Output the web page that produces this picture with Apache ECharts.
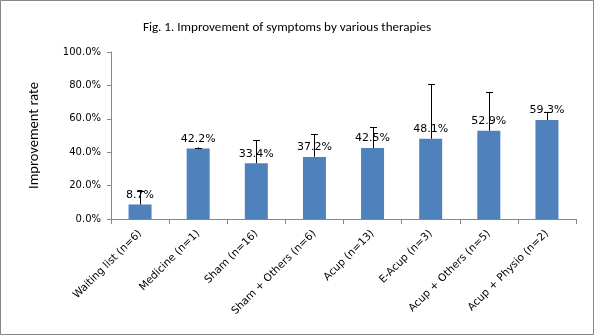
<!DOCTYPE html>
<html>
<head>
<meta charset="utf-8">
<script src="https://cdn.jsdelivr.net/npm/echarts@6/dist/echarts.min.js"></script>
<style>
  html, body { margin: 0; padding: 0; background: #fff; }
  #chart { width: 595px; height: 336px; }
</style>
</head>
<body>
<div id="chart"></div>
<script>
// Therapy groups and mean improvement rate (%)
const categories = [
  'Waiting list (n=6)', 'Medicine (n=1)', 'Sham (n=16)', 'Sham + Others (n=6)',
  'Acup (n=13)', 'E-Acup (n=3)', 'Acup + Others (n=5)', 'Acup + Physio (n=2)'
];
const improvement = [8.7, 42.2, 33.4, 37.2, 42.5, 48.1, 52.9, 59.3];
// Upper error (percentage points above the mean)
const errorPlus = [8.3, 0.6, 13.9, 13.5, 12.4, 32.5, 23.0, 4.6];
const yTicks = [0, 20, 40, 60, 80, 100];

const chart = echarts.init(document.getElementById('chart'), null, { renderer: 'canvas' });

const errorData = improvement.map((v, i) => [i, v, v + errorPlus[i]]);
const headFont = 'Carlito, Lato, sans-serif';

chart.setOption({
  animation: false,
  title: {
    text: 'Fig. 1. Improvement of symptoms by various therapies',
    left: 282,
    top: 16,
    textAlign: 'center',
    textStyle: { fontFamily: headFont, fontSize: 13.1, fontWeight: 'normal', color: '#000' }
  },
  graphic: [{
    type: 'rect',
    shape: { x: 0.5, y: 0.5, width: 593, height: 334 },
    style: { fill: 'none', stroke: '#868686', lineWidth: 1 },
    silent: true
  }],
  grid: { left: 111, right: 19, top: 52, bottom: 117 },
  xAxis: {
    type: 'category',
    data: categories,
    axisLine: { lineStyle: { color: '#868686' } },
    axisTick: { show: true, length: 5, lineStyle: { color: '#868686' } },
    axisLabel: {
      rotate: 45, interval: 0, margin: 13,
      fontFamily: 'DejaVu Sans', fontSize: 10.5, color: '#000'
    }
  },
  yAxis: {
    type: 'value',
    min: yTicks[0],
    max: yTicks[yTicks.length - 1],
    interval: 20,
    name: 'Improvement rate',
    nameLocation: 'middle',
    nameGap: 69,
    nameTextStyle: { fontFamily: headFont, fontSize: 14.5, color: '#000' },
    axisLine: { show: true, lineStyle: { color: '#868686' } },
    axisTick: { show: true, length: 4, lineStyle: { color: '#868686' } },
    splitLine: { show: false },
    axisLabel: {
      margin: 10,
      fontFamily: 'DejaVu Sans', fontSize: 10, color: '#000',
      formatter: v => v.toFixed(1) + '%'
    }
  },
  series: [
    {
      type: 'bar',
      data: improvement,
      barWidth: 23,
      itemStyle: { color: '#4F81BD' },
      label: {
        show: true, position: 'top', distance: 4,
        fontFamily: 'DejaVu Sans', fontSize: 11, color: '#000',
        formatter: p => p.value.toFixed(1) + '%'
      },
      z: 2
    },
    {
      type: 'custom',
      data: errorData,
      z: 3,
      renderItem: (params, api) => {
        const base = api.coord([api.value(0), api.value(1)]);
        const top = api.coord([api.value(0), api.value(2)]);
        const x = Math.round(base[0]) + 0.5;
        const half = 3.5;
        const style = { stroke: '#000', lineWidth: 1 };
        return {
          type: 'group',
          children: [
            { type: 'line', shape: { x1: x, y1: base[1], x2: x, y2: top[1] }, style },
            { type: 'line', shape: { x1: x - half, y1: Math.round(top[1]) + 0.5, x2: x + half, y2: Math.round(top[1]) + 0.5 }, style }
          ]
        };
      }
    }
  ]
});
</script>
</body>
</html>
